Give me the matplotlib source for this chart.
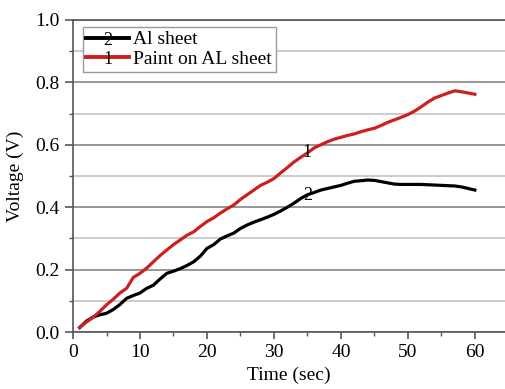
import matplotlib
matplotlib.use("Agg")
import matplotlib.pyplot as plt
from matplotlib.ticker import MultipleLocator

plt.rcParams['font.family'] = ['Liberation Serif', 'DejaVu Serif']

time_s = [1, 2, 3, 4, 5, 6, 7, 8, 9, 10, 11, 12, 13, 14, 15, 16, 17, 18, 19, 20,
          21, 22, 23, 24, 25, 26, 27, 28, 29, 30, 31, 32, 33, 34, 35, 36, 37, 38, 39, 40,
          41, 42, 43, 44, 45, 46, 47, 48, 49, 50, 51, 52, 53, 54, 55, 56, 57, 58, 59, 60]

al_sheet = [0.014, 0.035, 0.048, 0.055, 0.060, 0.072, 0.088, 0.108, 0.117, 0.125,
            0.140, 0.150, 0.170, 0.188, 0.195, 0.203, 0.213, 0.225, 0.243, 0.268,
            0.280, 0.298, 0.308, 0.317, 0.332, 0.343, 0.352, 0.360, 0.368, 0.377,
            0.388, 0.400, 0.413, 0.428, 0.440, 0.447, 0.455, 0.460, 0.465, 0.470,
            0.477, 0.483, 0.485, 0.487, 0.486, 0.482, 0.478, 0.474, 0.473, 0.473,
            0.473, 0.473, 0.472, 0.471, 0.470, 0.469, 0.468, 0.465, 0.460, 0.455]

paint_on_al = [0.015, 0.032, 0.047, 0.066, 0.087, 0.105, 0.125, 0.140, 0.175, 0.188,
               0.205, 0.225, 0.245, 0.263, 0.280, 0.295, 0.310, 0.321, 0.338, 0.354,
               0.366, 0.381, 0.395, 0.407, 0.425, 0.440, 0.455, 0.470, 0.480, 0.492,
               0.510, 0.527, 0.545, 0.560, 0.574, 0.590, 0.600, 0.610, 0.618, 0.624,
               0.630, 0.635, 0.642, 0.648, 0.653, 0.662, 0.672, 0.680, 0.688, 0.697,
               0.708, 0.722, 0.737, 0.750, 0.758, 0.766, 0.773, 0.770, 0.766, 0.762]

series_labels = ["Al sheet", "Paint on AL sheet"]
series_numbers = ["2", "1"]
x_ticks = [0, 10, 20, 30, 40, 50, 60]
y_ticks = [0.0, 0.2, 0.4, 0.6, 0.8, 1.0]

fig = plt.figure(figsize=(5.05, 3.89), dpi=100)
ax = fig.add_axes([0.1446, 0.1465, 0.8554, 0.8021])

ax.yaxis.set_minor_locator(MultipleLocator(0.1))
ax.xaxis.set_minor_locator(MultipleLocator(5))
ax.grid(True, which='major', axis='y', color='#858585', linewidth=1.2)
ax.grid(True, which='minor', axis='y', color='#c4c4c4', linewidth=1.2)
ax.set_axisbelow(True)

l2, = ax.plot(time_s, al_sheet, color='black', linewidth=2.3, label=series_labels[0])
l1, = ax.plot(time_s, paint_on_al, color='#cc1f1f', linewidth=2.3, label=series_labels[1])

ax.text(35, 0.574, series_numbers[1], fontsize=13, ha='center', va='center')
ax.text(35, 0.438, series_numbers[0], fontsize=13, ha='center', va='center')

ax.set_xlim(0, 64.5)
ax.set_ylim(0, 1.0)
ax.set_xticks(x_ticks)
ax.set_yticks(y_ticks)
ax.set_yticklabels([f"{v:.1f}" for v in y_ticks])
ax.tick_params(axis='both', which='major', labelsize=14, length=6, width=1.2,
               color='#555555', direction='out')
ax.tick_params(axis='both', which='minor', length=3, width=1.0, color='#555555',
               direction='out')
ax.tick_params(axis='x', which='major', length=5)

for s in ['right']:
    ax.spines[s].set_visible(False)
for s in ['left', 'bottom', 'top']:
    ax.spines[s].set_color('#555555')
    ax.spines[s].set_linewidth(1.2)

ax.set_xlabel("Time (sec)", fontsize=14, labelpad=4)
ax.set_ylabel("Voltage (V)", fontsize=14, labelpad=8)

leg = ax.legend(loc='upper left', bbox_to_anchor=(0.022, 0.978), fontsize=14,
                frameon=True, fancybox=False, edgecolor='#999999', framealpha=1,
                handlelength=2.2, handletextpad=0.2, borderpad=0.2,
                labelspacing=0.1, borderaxespad=0)
leg.get_frame().set_linewidth(1.0)
for ln in leg.get_lines():
    ln.set_linewidth(2.8)

fig.canvas.draw()
inv = fig.transFigure.inverted()
for line, num in zip(leg.get_lines(), series_numbers):
    xd = line.get_xdata()
    yd = line.get_ydata()
    tr = line.get_transform()
    p0 = tr.transform((xd[0], yd[0]))
    p1 = tr.transform((xd[-1], yd[-1]))
    cx, cy = inv.transform(((p0[0] + p1[0]) / 2, (p0[1] + p1[1]) / 2 - 2.7))
    fig.text(cx, cy, num, fontsize=13, ha='center', va='center')

fig.savefig("out.png", dpi=100)
